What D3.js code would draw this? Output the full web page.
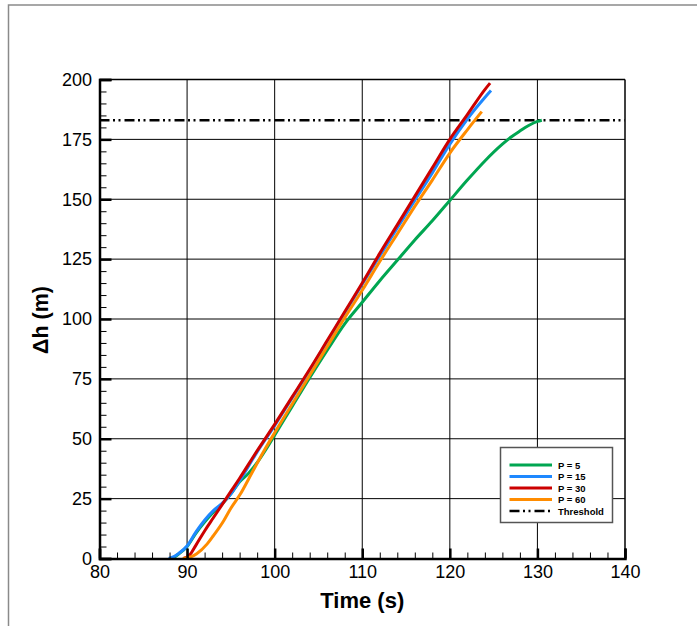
<!DOCTYPE html>
<html>
<head>
<meta charset="utf-8">
<script src="https://cdn.jsdelivr.net/npm/d3@7"></script>
<style>
  html, body { margin: 0; padding: 0; background: #fff; }
  svg { display: block; }
  text { font-family: "Liberation Sans", Arial, Helvetica, sans-serif; }
</style>
</head>
<body>
<svg id="chart" width="697" height="626"></svg>
<script>
// ---------------- DATA ----------------
const seriesNames = ["P = 5", "P = 15", "P = 30", "P = 60"];
const seriesColors = ["#00a651", "#1e88ff", "#cc0000", "#ff8c00"];

// [time (s), delta h (m)]
const dataP5 = [
  [88.3, 0], [89, 1.8], [90, 5], [91, 10.5], [92, 15.2], [93, 19.3], [94, 22.8],
  [95, 27], [96, 32], [97, 35.5], [98, 40], [99, 45.5], [100, 51.5], [102, 63.5],
  [104, 75.5], [106, 87], [108, 98], [110, 107], [112, 116], [114, 124.5],
  [116, 133], [118, 141], [120, 149.5], [122, 158], [124, 166], [126, 173],
  [127, 176], [128, 178.5], [129, 180.8], [130, 182.5], [130.5, 183]
];
const dataP15 = [
  [87.9, 0], [88.5, 0.8], [89, 2], [90, 5.2], [91, 11], [92, 16], [93, 20],
  [94, 23], [95, 27], [96, 32.5], [98, 44.5], [100, 55.5], [102, 67], [104, 78.5],
  [106, 90.5], [108, 102.5], [110, 114.5], [112, 126.3], [114, 138], [116, 149.5],
  [118, 161], [120, 173], [122, 183.5], [124, 192.5], [124.7, 195.4]
];
const dataP30 = [
  [89.6, 0], [90.3, 1.5], [91, 5.5], [92, 11.5], [93, 17], [94, 22.5], [95, 28],
  [96, 33.5], [98, 45], [100, 56], [102, 67.5], [104, 79], [106, 91], [108, 103],
  [110, 115], [112, 127.4], [114, 139.3], [116, 151.2], [118, 163.1], [120, 175],
  [122, 185.3], [124, 195.8], [124.6, 198.5]
];
const dataP60 = [
  [89.5, 0], [90.5, 0.8], [91.1, 2], [92.3, 6.1], [93, 9.5], [94.2, 15.9], [95, 21],
  [96.1, 27], [97, 33], [98, 39.8], [99, 46.3], [100, 52.5], [102, 64.5], [104, 76.5],
  [106, 88.5], [108, 100.5], [110, 112], [112, 124], [114, 135.5], [116, 147],
  [118, 158], [120, 169.3], [122, 179], [123.65, 186.6]
];
const seriesData = [dataP5, dataP15, dataP30, dataP60];

const thresholdValue = 183;
const thresholdLabel = "Threshold";

const xTicks = [80, 90, 100, 110, 120, 130, 140];
const xMinorTicks = d3.range(80, 140.01, 2);
const yTicks = [0, 25, 50, 75, 100, 125, 150, 175, 200];
const yMinorTicks = d3.range(0, 200.01, 5);

const xTitle = "Time (s)";
const yTitle = "\u0394h (m)";

// ---------------- LAYOUT ----------------
const svg = d3.select("#chart");
const pL = 99.5, pR = 625, pT = 79.5, pB = 558.5;

const x = d3.scaleLinear().domain([80, 140]).range([pL, pR]);
const y = d3.scaleLinear().domain([0, 200]).range([pB, pT]);

// outer frame (extends beyond window on right / bottom)
svg.append("rect")
  .attr("x", 8.5).attr("y", 5)
  .attr("width", 720).attr("height", 660)
  .attr("fill", "none").attr("stroke", "#8a8a8a").attr("stroke-width", 1.5);

// grid lines
const grid = svg.append("g");
grid.selectAll("line.h")
  .data(yTicks.filter(v => v > 0 && v < 200))
  .join("line").attr("class", "h")
  .attr("x1", pL).attr("x2", pR)
  .attr("y1", d => y(d)).attr("y2", d => y(d))
  .attr("stroke", "#000").attr("stroke-width", 1);
grid.selectAll("line.v")
  .data(xTicks.filter(v => v > 80 && v < 140))
  .join("line").attr("class", "v")
  .attr("y1", pT).attr("y2", pB)
  .attr("x1", d => x(d)).attr("x2", d => x(d))
  .attr("stroke", "#000").attr("stroke-width", 1);

// threshold
svg.append("line")
  .attr("x1", pL).attr("x2", pR)
  .attr("y1", y(thresholdValue)).attr("y2", y(thresholdValue))
  .attr("stroke", "#000").attr("stroke-width", 2.5)
  .attr("stroke-dasharray", "10,3.5,2,3.5,2,4");

// series lines
const line = d3.line()
  .x(d => x(d[0])).y(d => y(d[1]))
  .curve(d3.curveMonotoneX);

seriesData.forEach((data, i) => {
  svg.append("path")
    .datum(data)
    .attr("d", line)
    .attr("fill", "none")
    .attr("stroke", seriesColors[i])
    .attr("stroke-width", 3)
    .attr("stroke-linejoin", "round")
    .attr("stroke-linecap", "butt");
});

// frame: top and right thin
svg.append("line").attr("x1", pL).attr("x2", pR).attr("y1", pT).attr("y2", pT)
  .attr("stroke", "#000").attr("stroke-width", 1.5);
svg.append("line").attr("x1", pR).attr("x2", pR).attr("y1", pT).attr("y2", pB)
  .attr("stroke", "#000").attr("stroke-width", 1.5);

// minor ticks
const yMinorAxis = d3.axisLeft(y).tickValues(yMinorTicks).tickSize(-7).tickFormat("");
const gym = svg.append("g").attr("transform", `translate(${pL},0)`).call(yMinorAxis);
gym.select(".domain").remove();
gym.selectAll("line").attr("stroke", "#000").attr("stroke-width", 1);

const xMinorAxis = d3.axisBottom(x).tickValues(xMinorTicks).tickSize(-6).tickFormat("");
const gxm = svg.append("g").attr("transform", `translate(0,${pB})`).call(xMinorAxis);
gxm.select(".domain").remove();
gxm.selectAll("line").attr("stroke", "#000").attr("stroke-width", 1);

// major axes
const yAxis = d3.axisLeft(y).tickValues(yTicks).tickSize(-12).tickPadding(7.5).tickFormat(d3.format("d"));
const gy = svg.append("g").attr("transform", `translate(${pL},0)`).call(yAxis);
gy.select(".domain").attr("stroke", "#000").attr("stroke-width", 2.5);
gy.selectAll(".tick line").attr("stroke", "#000").attr("stroke-width", 2.5);
gy.selectAll(".tick text").attr("font-size", 18).attr("fill", "#000")
  .attr("font-family", "'Liberation Sans', Arial, sans-serif");

const xAxis = d3.axisBottom(x).tickValues(xTicks).tickSize(-10).tickPadding(7).tickFormat(d3.format("d"));
const gx = svg.append("g").attr("transform", `translate(0,${pB})`).call(xAxis);
gx.select(".domain").attr("stroke", "#000").attr("stroke-width", 2.5);
gx.selectAll(".tick line").attr("stroke", "#000").attr("stroke-width", 2.5);
gx.selectAll(".tick text").attr("font-size", 18).attr("fill", "#000")
  .attr("font-family", "'Liberation Sans', Arial, sans-serif");

// axis titles
svg.append("text")
  .attr("x", (pL + pR) / 2).attr("y", 608)
  .attr("text-anchor", "middle")
  .attr("font-size", 22).attr("font-weight", "bold")
  .text(xTitle);
svg.append("text")
  .attr("transform", `translate(48,${(pT + pB) / 2 + 1}) rotate(-90)`)
  .attr("text-anchor", "middle")
  .attr("font-size", 21.5).attr("font-weight", "bold")
  .text(yTitle);

// legend
const lg = svg.append("g");
lg.append("rect")
  .attr("x", 500.5).attr("y", 447.5).attr("width", 112).attr("height", 75)
  .attr("fill", "#fff").attr("stroke", "#555").attr("stroke-width", 1.5);
const rowY = [465, 476.5, 488, 499.5, 511];
const legendItems = seriesNames.map((n, i) => ({ name: n, color: seriesColors[i], dash: null }))
  .concat([{ name: thresholdLabel, color: "#000", dash: "10,3.5,2,3.5,2,4" }]);
legendItems.forEach((it, i) => {
  lg.append("line")
    .attr("x1", 509.5).attr("x2", 552)
    .attr("y1", rowY[i]).attr("y2", rowY[i])
    .attr("stroke", it.color).attr("stroke-width", it.dash ? 2.5 : 3)
    .attr("stroke-dasharray", it.dash);
  lg.append("text")
    .attr("x", 558).attr("y", rowY[i] + 3.5)
    .attr("font-size", 9.5).attr("font-weight", "bold")
    .text(it.name);
});
</script>
</body>
</html>
